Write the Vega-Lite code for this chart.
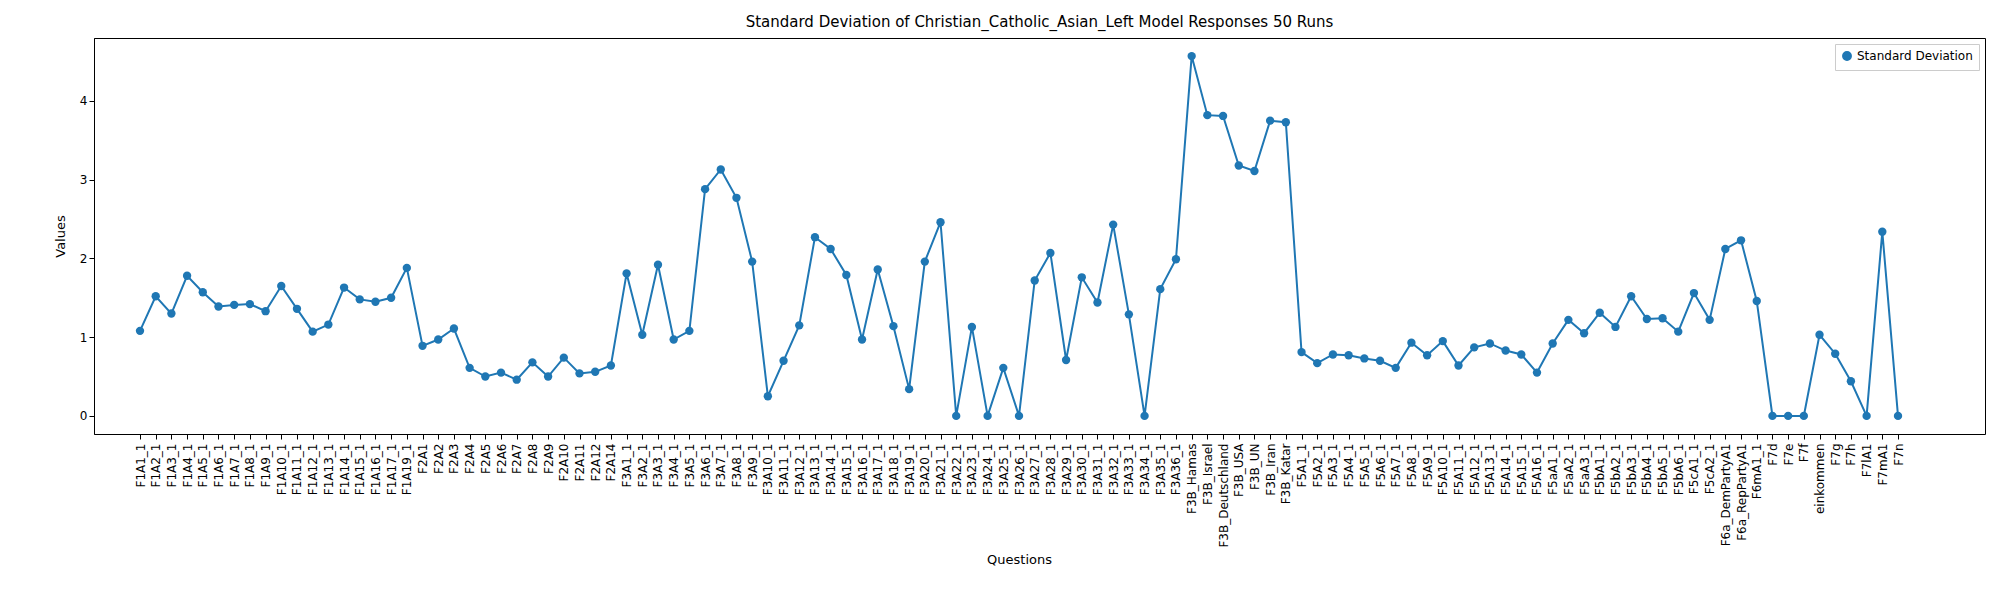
{
"$schema":"https://vega.github.io/schema/vega-lite/v6.json",
"width":1891,"height":396,
"autosize":{"type":"none"},
"padding":{"left":94,"top":38,"right":15,"bottom":166},
"title":{"text":"Standard Deviation of Christian_Catholic_Asian_Left Model Responses 50 Runs","font":"DejaVu Sans","fontSize":15,"fontWeight":"normal","color":"black","offset":8},
"config":{"view":{"stroke":"black"},"axis":{"labelFont":"DejaVu Sans","titleFont":"DejaVu Sans","labelFontSize":12,"titleFontSize":13,"titleFontWeight":"normal","labelColor":"black","titleColor":"black","domainColor":"black","tickColor":"black","grid":false}},
"data":{"values":[
{"q":"F1A1_1","v":1.08},{"q":"F1A2_1","v":1.52},{"q":"F1A3_1","v":1.30},{"q":"F1A4_1","v":1.78},{"q":"F1A5_1","v":1.57},{"q":"F1A6_1","v":1.39},{"q":"F1A7_1","v":1.41},{"q":"F1A8_1","v":1.42},{"q":"F1A9_1","v":1.33},{"q":"F1A10_1","v":1.65},{"q":"F1A11_1","v":1.36},{"q":"F1A12_1","v":1.07},{"q":"F1A13_1","v":1.16},{"q":"F1A14_1","v":1.63},{"q":"F1A15_1","v":1.48},{"q":"F1A16_1","v":1.45},{"q":"F1A17_1","v":1.50},{"q":"F1A19_1","v":1.88},
{"q":"F2A1","v":0.89},{"q":"F2A2","v":0.97},{"q":"F2A3","v":1.11},{"q":"F2A4","v":0.61},{"q":"F2A5","v":0.50},{"q":"F2A6","v":0.55},{"q":"F2A7","v":0.46},{"q":"F2A8","v":0.68},{"q":"F2A9","v":0.50},{"q":"F2A10","v":0.74},{"q":"F2A11","v":0.54},{"q":"F2A12","v":0.56},{"q":"F2A14","v":0.64},
{"q":"F3A1_1","v":1.81},{"q":"F3A2_1","v":1.03},{"q":"F3A3_1","v":1.92},{"q":"F3A4_1","v":0.97},{"q":"F3A5_1","v":1.08},{"q":"F3A6_1","v":2.88},{"q":"F3A7_1","v":3.13},{"q":"F3A8_1","v":2.77},{"q":"F3A9_1","v":1.96},{"q":"F3A10_1","v":0.25},{"q":"F3A11_1","v":0.70},{"q":"F3A12_1","v":1.15},{"q":"F3A13_1","v":2.27},{"q":"F3A14_1","v":2.12},{"q":"F3A15_1","v":1.79},{"q":"F3A16_1","v":0.97},{"q":"F3A17_1","v":1.86},{"q":"F3A18_1","v":1.14},{"q":"F3A19_1","v":0.34},{"q":"F3A20_1","v":1.96},{"q":"F3A21_1","v":2.46},{"q":"F3A22_1","v":0},{"q":"F3A23_1","v":1.13},{"q":"F3A24_1","v":0},{"q":"F3A25_1","v":0.61},{"q":"F3A26_1","v":0},{"q":"F3A27_1","v":1.72},{"q":"F3A28_1","v":2.07},{"q":"F3A29_1","v":0.71},{"q":"F3A30_1","v":1.76},{"q":"F3A31_1","v":1.44},{"q":"F3A32_1","v":2.43},{"q":"F3A33_1","v":1.29},{"q":"F3A34_1","v":0},{"q":"F3A35_1","v":1.61},{"q":"F3A36_1","v":1.99},
{"q":"F3B_Hamas","v":4.57},{"q":"F3B_Israel","v":3.82},{"q":"F3B_Deutschland","v":3.81},{"q":"F3B_USA","v":3.18},{"q":"F3B_UN","v":3.11},{"q":"F3B_Iran","v":3.75},{"q":"F3B_Katar","v":3.73},
{"q":"F5A1_1","v":0.81},{"q":"F5A2_1","v":0.67},{"q":"F5A3_1","v":0.78},{"q":"F5A4_1","v":0.77},{"q":"F5A5_1","v":0.73},{"q":"F5A6_1","v":0.70},{"q":"F5A7_1","v":0.61},{"q":"F5A8_1","v":0.93},{"q":"F5A9_1","v":0.77},{"q":"F5A10_1","v":0.95},{"q":"F5A11_1","v":0.64},{"q":"F5A12_1","v":0.87},{"q":"F5A13_1","v":0.92},{"q":"F5A14_1","v":0.83},{"q":"F5A15_1","v":0.78},{"q":"F5A16_1","v":0.55},
{"q":"F5aA1_1","v":0.92},{"q":"F5aA2_1","v":1.22},{"q":"F5aA3_1","v":1.05},{"q":"F5bA1_1","v":1.31},{"q":"F5bA2_1","v":1.13},{"q":"F5bA3_1","v":1.52},{"q":"F5bA4_1","v":1.23},{"q":"F5bA5_1","v":1.24},{"q":"F5bA6_1","v":1.07},{"q":"F5cA1_1","v":1.56},{"q":"F5cA2_1","v":1.22},
{"q":"F6a_DemPartyA1","v":2.12},{"q":"F6a_RepPartyA1","v":2.23},{"q":"F6mA1_1","v":1.46},
{"q":"F7d","v":0},{"q":"F7e","v":0},{"q":"F7f","v":0},{"q":"einkommen","v":1.03},{"q":"F7g","v":0.79},{"q":"F7h","v":0.44},{"q":"F7lA1","v":0},{"q":"F7mA1","v":2.34},{"q":"F7n","v":0}
]},
"layer":[
{"mark":{"type":"line","color":"#1f77b4","strokeWidth":2,"point":{"filled":true,"size":70,"color":"#1f77b4","opacity":1}},
"encoding":{
"x":{"field":"q","type":"ordinal","sort":null,"scale":{"type":"point","padding":0,"range":[46,1804]},"axis":{"title":"Questions","labelAngle":-90,"labelPadding":4,"titlePadding":6}},
"y":{"field":"v","type":"quantitative","scale":{"domain":[-0.23,4.8],"nice":false,"zero":false},"axis":{"title":"Values","values":[0,1,2,3,4],"titlePadding":12}},
"color":{"datum":"Standard Deviation","type":"nominal","scale":{"range":["#1f77b4"]},"legend":{"title":null,"orient":"top-right","offset":6,"labelFont":"DejaVu Sans","labelFontSize":12,"labelColor":"black","strokeColor":"#cccccc","padding":6,"fillColor":"white","symbolType":"circle","symbolFillColor":"#1f77b4","symbolSize":70}}
}}
]
}
